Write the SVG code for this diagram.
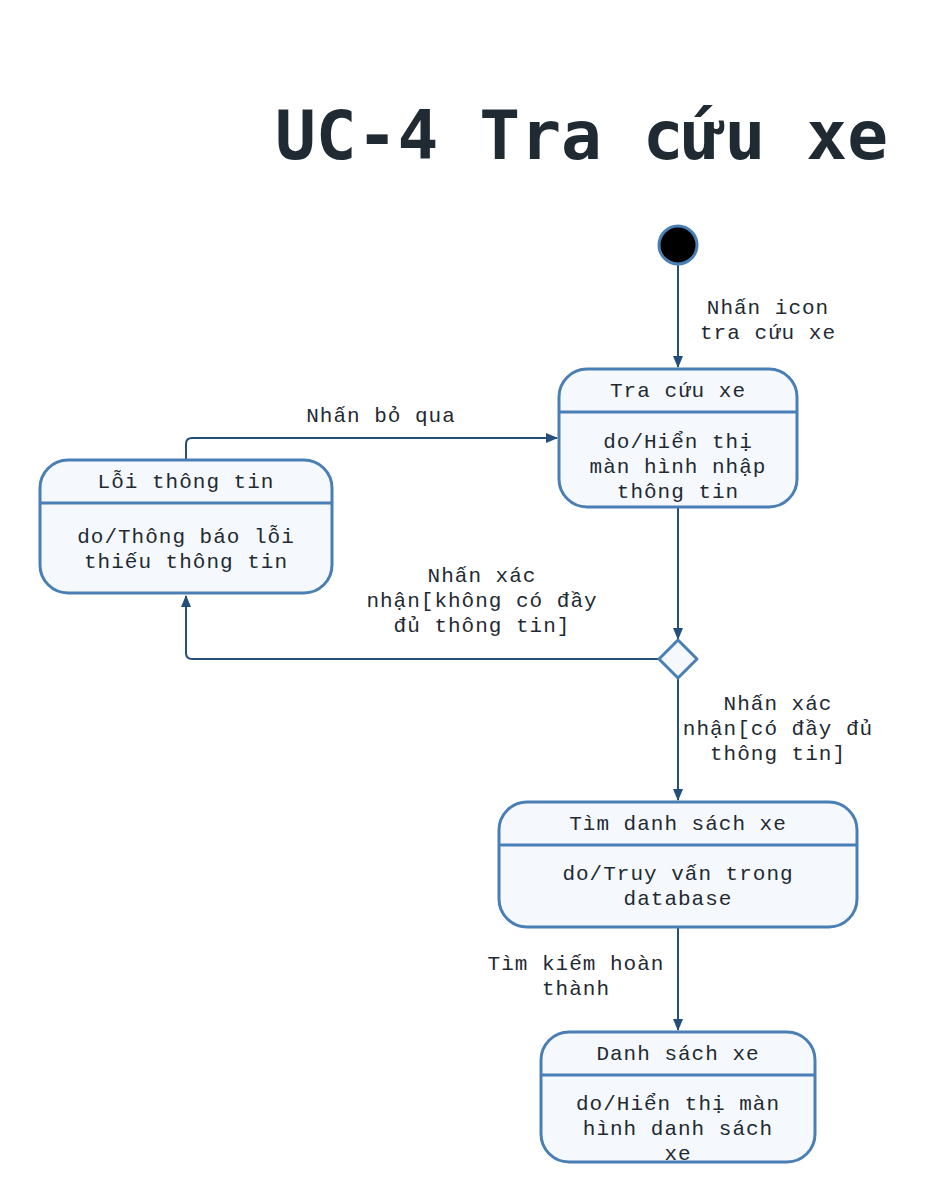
<svg xmlns="http://www.w3.org/2000/svg" width="938" height="1204" viewBox="0 0 938 1204">
<defs>
<style>
.st{fill:#f5f9fd;stroke:#4a7fb5;stroke-width:3}
.dv{stroke:#4a7fb5;stroke-width:3}
.t{font-family:"Liberation Mono","DejaVu Sans Mono",monospace;font-size:21px;fill:#1f2a33;text-anchor:middle;letter-spacing:1px}
.c{fill:none;stroke:#234f7a;stroke-width:2}
.title{font-family:"DejaVu Sans Mono","Liberation Mono",monospace;font-weight:bold;font-size:68px;fill:#1f2a33}
</style>
<marker id="ah" viewBox="0 0 12 12" refX="11" refY="6" markerWidth="12" markerHeight="12" markerUnits="userSpaceOnUse" orient="auto">
<path d="M0,1 L12,6 L0,11 Z" fill="#234f7a"/>
</marker>
</defs>
<rect width="938" height="1204" fill="#ffffff"/>
<text class="title" x="275" y="159" textLength="613" lengthAdjust="spacingAndGlyphs">UC-4 Tra cứu xe</text>

<g id="connectors">
<path class="c" d="M678,265 L678,367" marker-end="url(#ah)"/>
<text class="t" x="768" y="314">Nhấn icon</text>
<text class="t" x="768" y="339">tra cứu xe</text>

<path class="c" d="M186,460 L186,444 Q186,438 192,438 L557,438" marker-end="url(#ah)"/>
<text class="t" x="381" y="422">Nhấn bỏ qua</text>

<path class="c" d="M678,508 L678,639" marker-end="url(#ah)"/>

<path class="c" d="M659,659 L192,659 Q186,659 186,653 L186,596" marker-end="url(#ah)"/>
<text class="t" x="482" y="582">Nhấn xác</text>
<text class="t" x="482" y="607">nhận[không có đầy</text>
<text class="t" x="482" y="632">đủ thông tin]</text>

<path class="c" d="M678,678 L678,800" marker-end="url(#ah)"/>
<text class="t" x="778" y="710">Nhấn xác</text>
<text class="t" x="778" y="735">nhận[có đầy đủ</text>
<text class="t" x="778" y="760">thông tin]</text>

<path class="c" d="M678,928 L678,1030" marker-end="url(#ah)"/>
<text class="t" x="576" y="970">Tìm kiếm hoàn</text>
<text class="t" x="576" y="995">thành</text>
</g>

<g id="start">
<circle cx="678" cy="245" r="19" fill="#000" stroke="#4a7fb5" stroke-width="3"/>
</g>

<g id="tra-cuu-xe">
<rect class="st" x="559" y="369" width="238" height="138" rx="28"/>
<line class="dv" x1="559" y1="412" x2="797" y2="412"/>
<text class="t" x="678" y="397">Tra cứu xe</text>
<text class="t" x="678" y="448">do/Hiển thị</text>
<text class="t" x="678" y="473">màn hình nhập</text>
<text class="t" x="678" y="498">thông tin</text>
</g>

<g id="loi-thong-tin">
<rect class="st" x="40" y="460" width="292" height="133" rx="28"/>
<line class="dv" x1="40" y1="503" x2="332" y2="503"/>
<text class="t" x="186" y="488">Lỗi thông tin</text>
<text class="t" x="186" y="543">do/Thông báo lỗi</text>
<text class="t" x="186" y="568">thiếu thông tin</text>
</g>

<g id="decision">
<path d="M678,640 L697,659 L678,678 L659,659 Z" fill="#f5f9fd" stroke="#4a7fb5" stroke-width="3" stroke-linejoin="round"/>
</g>

<g id="tim-danh-sach-xe">
<rect class="st" x="499" y="802" width="358" height="125" rx="28"/>
<line class="dv" x1="499" y1="845" x2="857" y2="845"/>
<text class="t" x="678" y="830">Tìm danh sách xe</text>
<text class="t" x="678" y="880">do/Truy vấn trong</text>
<text class="t" x="678" y="905">database</text>
</g>

<g id="danh-sach-xe">
<rect class="st" x="541" y="1032" width="274" height="130" rx="28"/>
<line class="dv" x1="541" y1="1075" x2="815" y2="1075"/>
<text class="t" x="678" y="1060">Danh sách xe</text>
<text class="t" x="678" y="1110">do/Hiển thị màn</text>
<text class="t" x="678" y="1135">hình danh sách</text>
<text class="t" x="678" y="1160">xe</text>
</g>
</svg>
